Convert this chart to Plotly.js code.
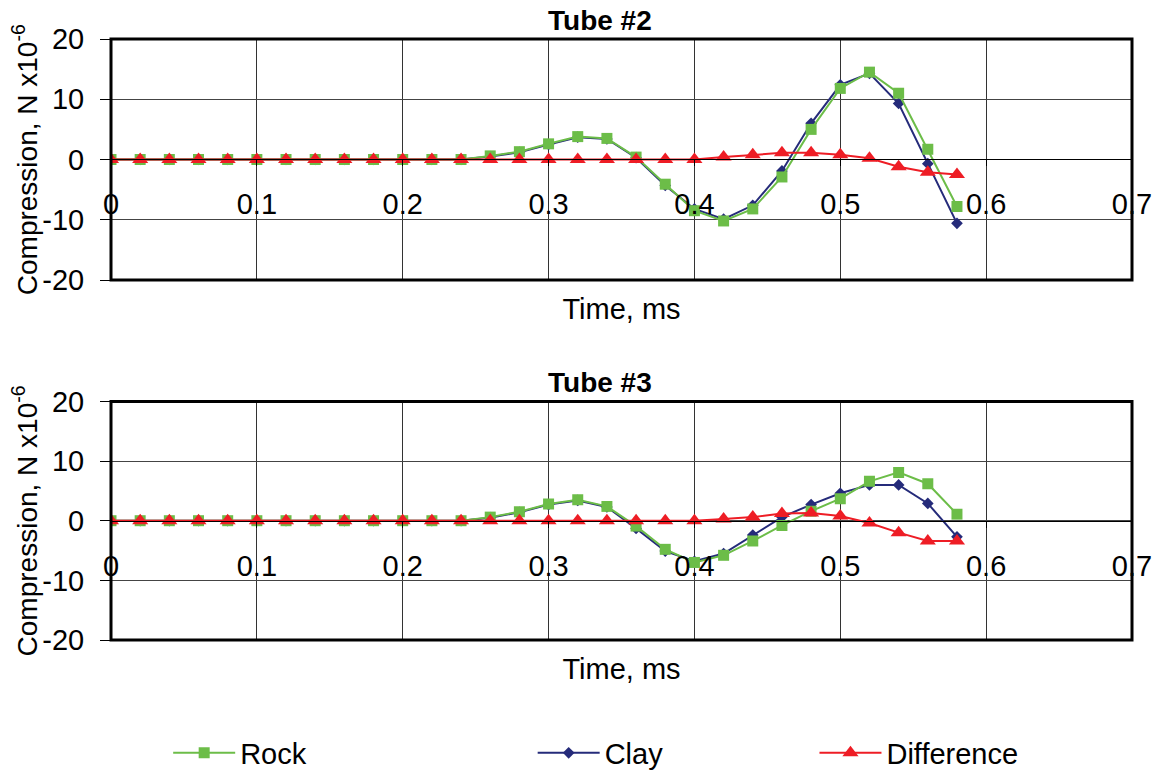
<!DOCTYPE html>
<html>
<head>
<meta charset="utf-8">
<script src="https://cdn.plot.ly/plotly-3.0.1.min.js"></script>
<style>html,body{margin:0;padding:0;background:#fff;}#chart{width:1161px;height:771px;}</style>
</head>
<body>
<div id="chart"></div>
<script>
// ---- data ----
const time = [0,0.02,0.04,0.06,0.08,0.10,0.12,0.14,0.16,0.18,0.20,0.22,0.24,0.26,0.28,0.30,0.32,0.34,0.36,0.38,0.40,0.42,0.44,0.46,0.48,0.50,0.52,0.54,0.56,0.58];

const tube2Rock = [0,0,0,0,0,0,0,0,0,0,0,0,0,0.6,1.3,2.6,3.8,3.5,0.4,-4.1,-8.5,-10.2,-8.2,-2.9,5.0,11.8,14.5,11.0,1.7,-7.8];
const tube2Clay = [0,0,0,0,0,0,0,0,0,0,0,0,0,0.5,1.2,2.5,3.7,3.4,0.3,-4.3,-8.2,-9.9,-7.6,-1.9,6.0,12.4,14.3,9.3,-0.7,-10.6];
const tube2Diff = [0,0,0,0,0,0,0,0,0,0,0,0,0,0,0,0,0,0,0,0,0,0.4,0.8,1.1,1.1,0.8,0.2,-1.2,-2.1,-2.5];

const tube3Rock = [0,0,0,0,0,0,0,0,0,0,0,0,0,0.6,1.5,2.8,3.5,2.4,-0.9,-4.8,-7.0,-5.8,-3.4,-0.8,1.6,3.7,6.6,8.1,6.2,1.1];
const tube3Clay = [0,0,0,0,0,0,0,0,0,0,0,0,0,0.5,1.4,2.7,3.4,2.3,-1.3,-5.1,-6.8,-5.5,-2.4,0.6,2.7,4.6,6.0,6.0,2.9,-2.7];
const tube3Diff = [0,0,0,0,0,0,0,0,0,0,0,0,0,0,0,0,0,0,0,0,0,0.3,0.6,1.2,1.3,0.8,-0.4,-2.0,-3.4,-3.4];

const xTickVals = [0,0.1,0.2,0.3,0.4,0.5,0.6,0.7];
const xTickText = ['0','0.1','0.2','0.3','0.4','0.5','0.6','0.7'];
const yTickVals = [-20,-10,0,10,20];
const yTickText = ['-20','-10','0','10','20'];
const seriesNames = ['Rock','Clay','Difference'];
const panelTitles = ['Tube #2','Tube #3'];
const xTitle = 'Time, ms';
const yTitle = 'Compression, N x10<sup>-6</sup>';

// ---- styles ----
const FONT = 'Liberation Sans, Arial, sans-serif';
const GREEN = '#6cbd48', NAVY = '#252b7a', RED = '#ee1d25';

function mk(x, y, name, color, symbol, size, xa, ya, legendId, show) {
  return {
    type: 'scatter', mode: 'lines+markers', x: x, y: y, name: name,
    xaxis: xa, yaxis: ya,
    line: {color: color, width: 2},
    marker: {color: color, symbol: symbol, size: size},
    showlegend: show, legend: legendId
  };
}

const traces = [
  mk(time, tube2Clay, seriesNames[1], NAVY, 'diamond', 9, 'x', 'y', 'legend2', true),
  mk(time, tube2Rock, seriesNames[0], GREEN, 'square', 11, 'x', 'y', 'legend', true),
  mk(time, tube2Diff, seriesNames[2], RED, 'triangle-up', 14, 'x', 'y', 'legend3', true),
  mk(time, tube3Clay, seriesNames[1], NAVY, 'diamond', 9, 'x2', 'y2', 'legend2', false),
  mk(time, tube3Rock, seriesNames[0], GREEN, 'square', 11, 'x2', 'y2', 'legend', false),
  mk(time, tube3Diff, seriesNames[2], RED, 'triangle-up', 14, 'x2', 'y2', 'legend3', false),
  // empty carriers so the tick-label axes at y = 0 get a subplot
  {type: 'scatter', mode: 'markers', x: [null], y: [null], xaxis: 'x3', yaxis: 'y', showlegend: false, hoverinfo: 'skip'},
  {type: 'scatter', mode: 'markers', x: [null], y: [null], xaxis: 'x4', yaxis: 'y2', showlegend: false, hoverinfo: 'skip'}
];

const topDom = [0.599, 1];
const botDom = [0, 0.397];

function gridX(anchor) {
  return {
    domain: [0, 1], anchor: anchor, range: [0, 0.7],
    tickvals: xTickVals, showticklabels: false, ticks: '',
    showgrid: true, gridcolor: '#333', gridwidth: 1, zeroline: false, showline: false,
    title: {text: xTitle, font: {family: FONT, size: 29, color: '#000'}, standoff: 18}
  };
}
function labelX(over, pos) {
  return {
    overlaying: over, anchor: 'free', position: pos, range: [0, 0.7], side: 'bottom',
    tickvals: xTickVals, ticktext: xTickText,
    ticks: 'outside', ticklen: 6, tickcolor: '#000', tickwidth: 1,
    showline: true, linecolor: '#000', linewidth: 1,
    showgrid: false, zeroline: false,
    ticklabelstandoff: 13,
    tickfont: {family: FONT, size: 29, color: '#000'}
  };
}
function yAx(dom, anchor) {
  return {
    domain: dom, anchor: anchor, range: [-20, 20],
    tickvals: yTickVals, ticktext: yTickText,
    ticks: 'outside', ticklen: 10, tickcolor: '#000', tickwidth: 1,
    ticklabelstandoff: 10,
    showgrid: true, gridcolor: '#444', gridwidth: 1, zeroline: false, showline: false,
    tickfont: {family: FONT, size: 29, color: '#000'}
  };
}

function frame(y0, y1) {
  return {type: 'rect', xref: 'paper', yref: 'paper', x0: 0, x1: 1, y0: y0, y1: y1,
          line: {color: '#000', width: 3}, layer: 'above'};
}
function yTitleAnn(yc) {
  return {text: yTitle, xref: 'paper', yref: 'paper', x: -0.0845, y: yc, xanchor: 'center', yanchor: 'middle',
          textangle: -90, showarrow: false, font: {family: FONT, size: 28, color: '#000'}};
}

const legendBase = {orientation: 'h', yanchor: 'middle', y: -0.188, xanchor: 'left',
  font: {family: FONT, size: 29, color: '#000'}, itemwidth: 62, bgcolor: 'rgba(0,0,0,0)'};

const layout = {
  width: 1161, height: 771,
  margin: {l: 111, r: 29, t: 39, b: 131, autoexpand: false},
  paper_bgcolor: '#fff', plot_bgcolor: '#fff',
  font: {family: FONT, color: '#000'},
  xaxis: gridX('y'),
  xaxis2: gridX('y2'),
  xaxis3: labelX('x', 0.8),
  xaxis4: labelX('x2', 0.1985),
  yaxis: yAx(topDom, 'x'),
  yaxis2: yAx(botDom, 'x2'),
  shapes: [frame(topDom[0], topDom[1]), frame(botDom[0], botDom[1])],
  annotations: [
    {text: '<b>' + panelTitles[0] + '</b>', xref: 'paper', yref: 'paper', x: 0.479, y: 1.03, xanchor: 'center', yanchor: 'middle', showarrow: false, font: {family: FONT, size: 28, color: '#000'}},
    {text: '<b>' + panelTitles[1] + '</b>', xref: 'paper', yref: 'paper', x: 0.479, y: 0.428, xanchor: 'center', yanchor: 'middle', showarrow: false, font: {family: FONT, size: 28, color: '#000'}},
    yTitleAnn((topDom[0] + topDom[1]) / 2),
    yTitleAnn((botDom[0] + botDom[1]) / 2)
  ],
  legend: Object.assign({}, legendBase, {x: 0.056}),
  legend2: Object.assign({}, legendBase, {x: 0.413}),
  legend3: Object.assign({}, legendBase, {x: 0.689}),
  showlegend: true
};

Plotly.newPlot('chart', traces, layout, {displayModeBar: false, staticPlot: true});
</script>
</body>
</html>
